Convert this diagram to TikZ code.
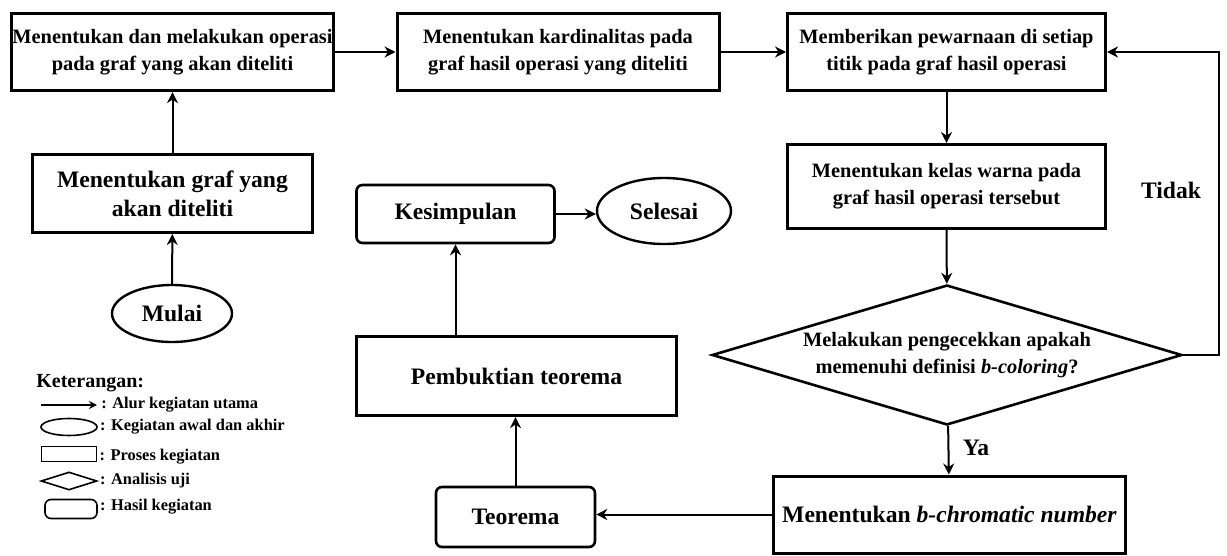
\documentclass[tikz,border=0pt]{standalone}
\usepackage{fontspec}
\setmainfont{Liberation Serif}
\usetikzlibrary{arrows.meta, positioning, shapes.geometric}

\begin{document}
\begin{tikzpicture}[x=0.5pt, y=-0.5pt,
  proses/.style={draw, line width=1.5pt, align=center, inner sep=0pt,
    font=\fontsize{10.2}{13.5}\selectfont\bfseries},
  besar/.style={font=\fontsize{11.8}{14.5}\selectfont\bfseries},
  hasil/.style={draw, line width=1.3pt, rounded corners=3pt, align=center, inner sep=0pt, besar},
  awal/.style={draw, ellipse, line width=1.2pt, inner sep=0pt, besar},
  analisis/.style={draw, diamond, line width=1.3pt, inner sep=0pt, aspect=3.36},
  alur/.style={-{Stealth[length=5.5pt, width=5.5pt]}, line width=1pt},
  ket/.style={anchor=west, inner sep=1pt, font=\fontsize{8.2}{9.5}\selectfont\bfseries}]

\useasboundingbox (0,0) rectangle (1227,556);

% baris atas
\node[proses, minimum width=161pt, minimum height=38.6pt] (operasi) at (172.5,52)
  {Menentukan dan melakukan operasi\\pada graf yang akan diteliti};
\node[proses, minimum width=161pt, minimum height=38.6pt] (kardinal) at (558,52)
  {Menentukan kardinalitas pada\\graf hasil operasi yang diteliti};
\node[proses, minimum width=159pt, minimum height=38.6pt] (warna) at (946.5,52)
  {Memberikan pewarnaan di setiap\\titik pada graf hasil operasi};

% kolom kiri
\node[proses, besar, minimum width=140pt, minimum height=39pt] (graf) at (172.5,193.5)
  {Menentukan graf yang\\akan diteliti};
\node[awal, minimum width=60pt, minimum height=28.5pt] (mulai) at (172,313.5) {Mulai};

% kolom kanan
\node[proses, minimum width=159pt, minimum height=42pt] (kelas) at (946.5,186.5)
  {Menentukan kelas warna pada\\graf hasil operasi tersebut};
\node[analisis, minimum width=235pt, minimum height=70pt] (cek) at (947,355) {};
\node[align=center, font=\fontsize{10.2}{13.5}\selectfont\bfseries] (cektext) at (cek)
  {Melakukan pengecekkan apakah\\memenuhi definisi \textit{b-coloring}?};
\node[proses, besar, minimum width=176pt, minimum height=38.5pt] (bchrom) at (949.5,514.5)
  {Menentukan \textit{b-chromatic number}};

% kolom tengah
\node[hasil, minimum width=79.5pt, minimum height=30pt] (teorema) at (515.5,517) {Teorema};
\node[proses, besar, minimum width=160pt, minimum height=39.6pt] (bukti) at (516.5,376)
  {Pembuktian teorema};
\node[hasil, minimum width=99pt, minimum height=29pt] (simpul) at (455.5,214) {Kesimpulan};
\node[awal, minimum width=67pt, minimum height=33pt] (selesai) at (664,211) {Selesai};

% alur
\draw[alur] (mulai) -- (graf);
\draw[alur] (graf) -- (operasi);
\draw[alur] (operasi) -- (kardinal);
\draw[alur] (kardinal) -- (warna);
\draw[alur] (warna) -- (kelas);
\draw[alur] (kelas) -- (cek);
\draw[alur] (cek.east) -- ++(36,0) |- (warna.east);
\node[besar] (tidak) at (1171,190) {Tidak};
\draw[alur] (cek) -- (bchrom);
\node[besar] (ya) at (976,448) {Ya};
\draw[alur] (bchrom) -- (bchrom.west -| teorema.east);
\draw[alur] (teorema) -- (teorema |- bukti.south);
\draw[alur] (simpul.south |- bukti.north) -- (simpul);
\draw[alur] (simpul) -- (simpul -| selesai.west);

% keterangan
\node[anchor=west, inner sep=0pt, font=\fontsize{10}{12}\selectfont\bfseries] (keterangan) at (36,383) {Keterangan:};
\coordinate (la) at (41,405);
\coordinate (lb) at (97,405);
\draw[alur, line width=0.8pt, -{Stealth[length=4pt, width=4pt]}] (la) -- (lb);
\node[ket] (ket1) at (99,405) {: Alur kegiatan utama};
\node[draw, ellipse, line width=0.8pt, minimum width=28pt, minimum height=8.5pt, inner sep=0pt] (lelips) at (69,427) {};
\node[ket] (ket2) at (lelips.east) {: Kegiatan awal dan akhir};
\node[draw, line width=0.8pt, minimum width=27.5pt, minimum height=7.5pt, inner sep=0pt] (lkotak) at (69,454) {};
\node[ket] (ket3) at ([yshift=-1.5pt]lkotak.east) {: Proses kegiatan};
\node[draw, diamond, aspect=3.1, line width=0.8pt, minimum width=28pt, minimum height=9pt, inner sep=0pt] (lwajik) at (69,481) {};
\node[ket] (ket4) at (lwajik.east) {: Analisis uji};
\node[draw, rounded corners=3pt, line width=0.8pt, minimum width=26pt, minimum height=9.5pt, inner sep=0pt] (lbulat) at (71,509) {};
\node[ket] (ket5) at ([yshift=1pt]lbulat.east) {: Hasil kegiatan};
\end{tikzpicture}
\end{document}
